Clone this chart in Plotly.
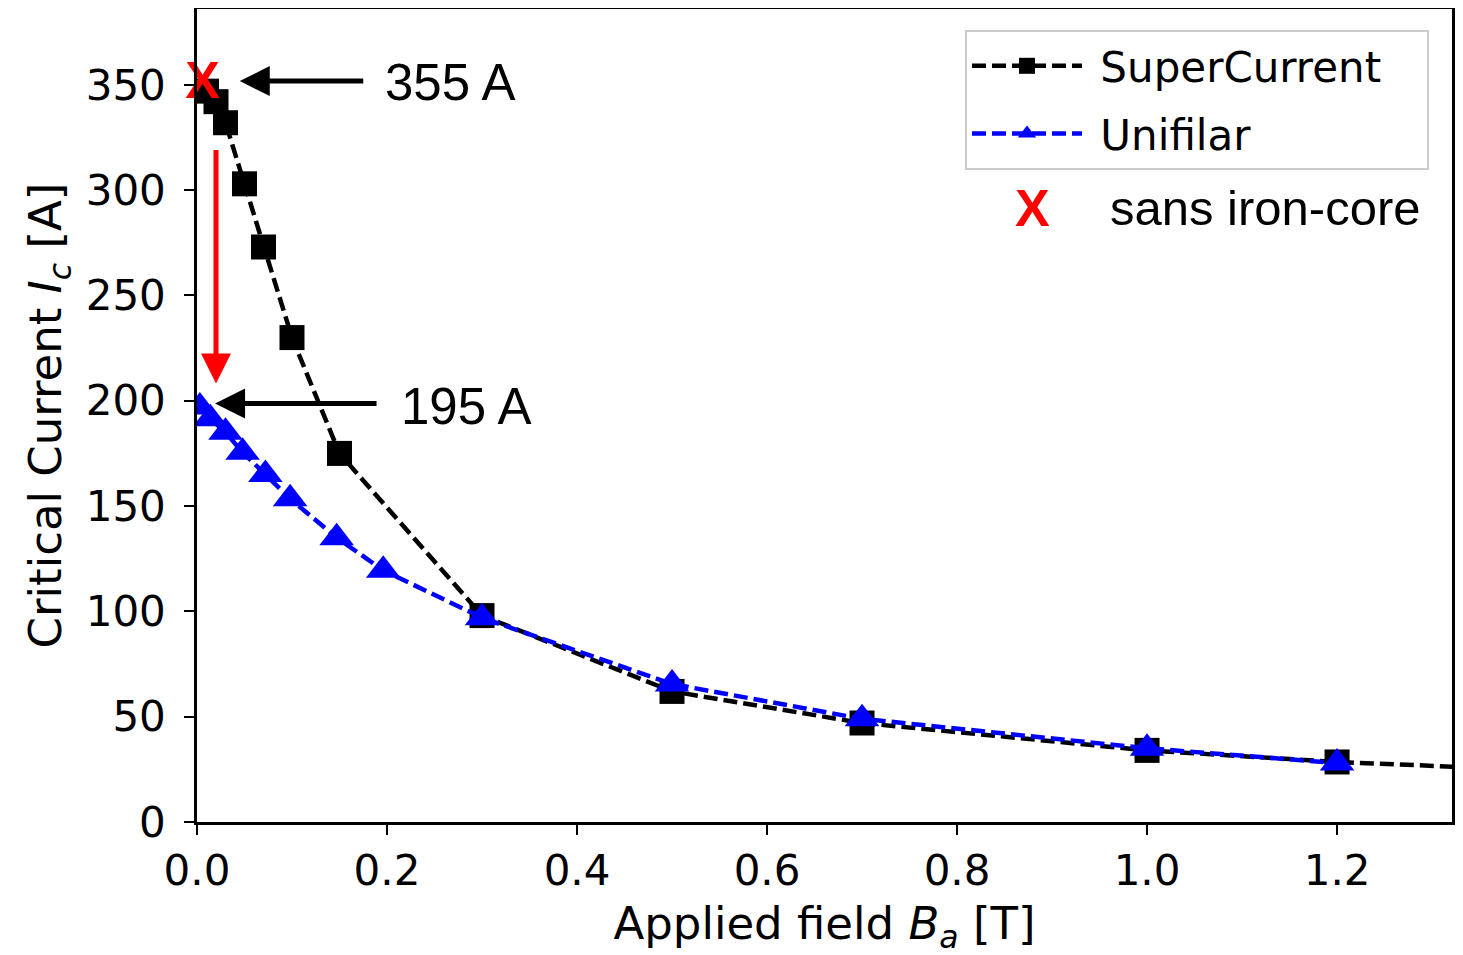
import plotly.graph_objects as go

# SuperCurrent data
sc_x = [0.01, 0.02, 0.03, 0.05, 0.07, 0.10, 0.15, 0.30, 0.50, 0.70, 1.00, 1.20, 1.50]
sc_y = [347, 342, 332, 303, 273, 230, 175, 98, 62, 47, 34, 28.5, 23]

# Unifilar data
un_x = [0.003, 0.014, 0.03, 0.048, 0.072, 0.098, 0.147, 0.196, 0.30, 0.50, 0.70, 1.00, 1.20]
un_y = [197, 191.5, 185, 175.5, 165, 153.5, 135, 119.5, 97, 65.5, 49, 35, 28]

# sans iron-core point
ic_x = [0.006]
ic_y = [350]

xticks = [0.0, 0.2, 0.4, 0.6, 0.8, 1.0, 1.2]
yticks = [0, 50, 100, 150, 200, 250, 300, 350]

DV = "DejaVu Sans"
AR = "Liberation Sans, Arial"

# page has an 8px body margin; figure is sized so the plot lands where the reference has it
W, H = 1455, 947
L, R, T, B = 189, 11, 1, 133
PW, PH = W - L - R, H - T - B


def px(xp):  # page x pixel -> paper fraction
    return (xp - 8 - L) / PW


def py(yp):  # page y pixel -> paper fraction
    return 1 - (yp - 8 - T) / PH


fig = go.Figure()
fig.add_trace(go.Scatter(
    x=sc_x, y=sc_y, mode="lines+markers", name="&nbsp;SuperCurrent&nbsp;&nbsp;&nbsp;",
    line=dict(color="black", width=4.5, dash="14px,6px"),
    marker=dict(symbol="square", size=25, color="black"),
    legendgroup="a"))
fig.add_trace(go.Scatter(
    x=un_x, y=un_y, mode="lines+markers", name="&nbsp;Unifilar",
    line=dict(color="blue", width=4.5, dash="14px,6px"),
    marker=dict(symbol="triangle-up", size=30, color="blue"),
    legendgroup="b"))
fig.add_trace(go.Scatter(
    x=ic_x, y=ic_y, mode="text", text=["<b>X</b>"], showlegend=False, cliponaxis=False,
    textfont=dict(family=AR, size=52, color="red"), textposition="middle center"))

ann = []
# 355 A arrow + label
ann.append(dict(x=0.045, y=351.8, xref="x", yref="y", ax=125, ay=0, axref="pixel", ayref="pixel",
                text="", showarrow=True, arrowhead=2, arrowsize=1.2, arrowwidth=5, arrowcolor="black"))
ann.append(dict(x=0.196, y=351, xref="x", yref="y", text="355 A", showarrow=False, xanchor="left",
                font=dict(family=AR, size=51, color="black")))
# 195 A arrow + label
ann.append(dict(x=0.019, y=198.7, xref="x", yref="y", ax=163, ay=0, axref="pixel", ayref="pixel",
                text="", showarrow=True, arrowhead=2, arrowsize=1.2, arrowwidth=5, arrowcolor="black"))
ann.append(dict(x=0.213, y=197.5, xref="x", yref="y", text="195 A", showarrow=False, xanchor="left",
                font=dict(family=AR, size=51, color="black")))
# red vertical arrow
ann.append(dict(x=0.02, y=208.2, xref="x", yref="y", ax=0, ay=-235, axref="pixel", ayref="pixel",
                text="", showarrow=True, arrowhead=2, arrowsize=1.2, arrowwidth=5, arrowcolor="red"))
# legend-like extra entry
ann.append(dict(x=px(1032), y=py(208), xref="paper", yref="paper", text="<b>X</b>",
                xanchor="center", yanchor="middle",
                showarrow=False, font=dict(family=AR, size=52, color="red")))
ann.append(dict(x=px(1108), y=py(208), xref="paper", yref="paper",
                text="sans iron-core", showarrow=False, xanchor="left", yanchor="middle",
                font=dict(family=AR, size=49, color="black")))

fig.update_layout(
    width=W, height=H,
    margin=dict(l=L, r=R, t=T, b=B, autoexpand=False),
    paper_bgcolor="white", plot_bgcolor="white",
    annotations=ann,
    showlegend=True,
    legend=dict(x=px(965), y=py(30), xanchor="left", yanchor="top",
                bgcolor="white", bordercolor="#cccccc", borderwidth=2,
                font=dict(family=DV, size=42, color="black"),
                tracegroupgap=10, itemwidth=110),
    font=dict(family=DV, color="black"),
)
fig.update_xaxes(
    range=[0, 1.321], tickvals=xticks, ticktext=[f"{v:.1f}" for v in xticks],
    showgrid=False, zeroline=False, showline=True, linecolor="black", linewidth=2.5, mirror=True,
    ticks="outside", ticklen=10, tickwidth=2, tickcolor="black", automargin=False,
    ticklabelstandoff=0,
    tickfont=dict(family=DV, size=42, color="black"),
    title=dict(text="Applied field <i>B</i><sub><i>a</i></sub> [T]", font=dict(family=DV, size=45, color="black"), standoff=16),
)
fig.update_yaxes(
    range=[0, 386], tickvals=yticks,
    showgrid=False, zeroline=False, showline=True, linecolor="black", linewidth=2.5, mirror=True,
    ticks="outside", ticklen=10, tickwidth=2, tickcolor="black", automargin=False,
    ticklabelstandoff=10,
    tickfont=dict(family=DV, size=42, color="black"),
    title=dict(text="Critical Current <i>I</i><sub><i>c</i></sub> [A]", font=dict(family=DV, size=45, color="black"), standoff=10),
)

fig.write_html("out.html")
